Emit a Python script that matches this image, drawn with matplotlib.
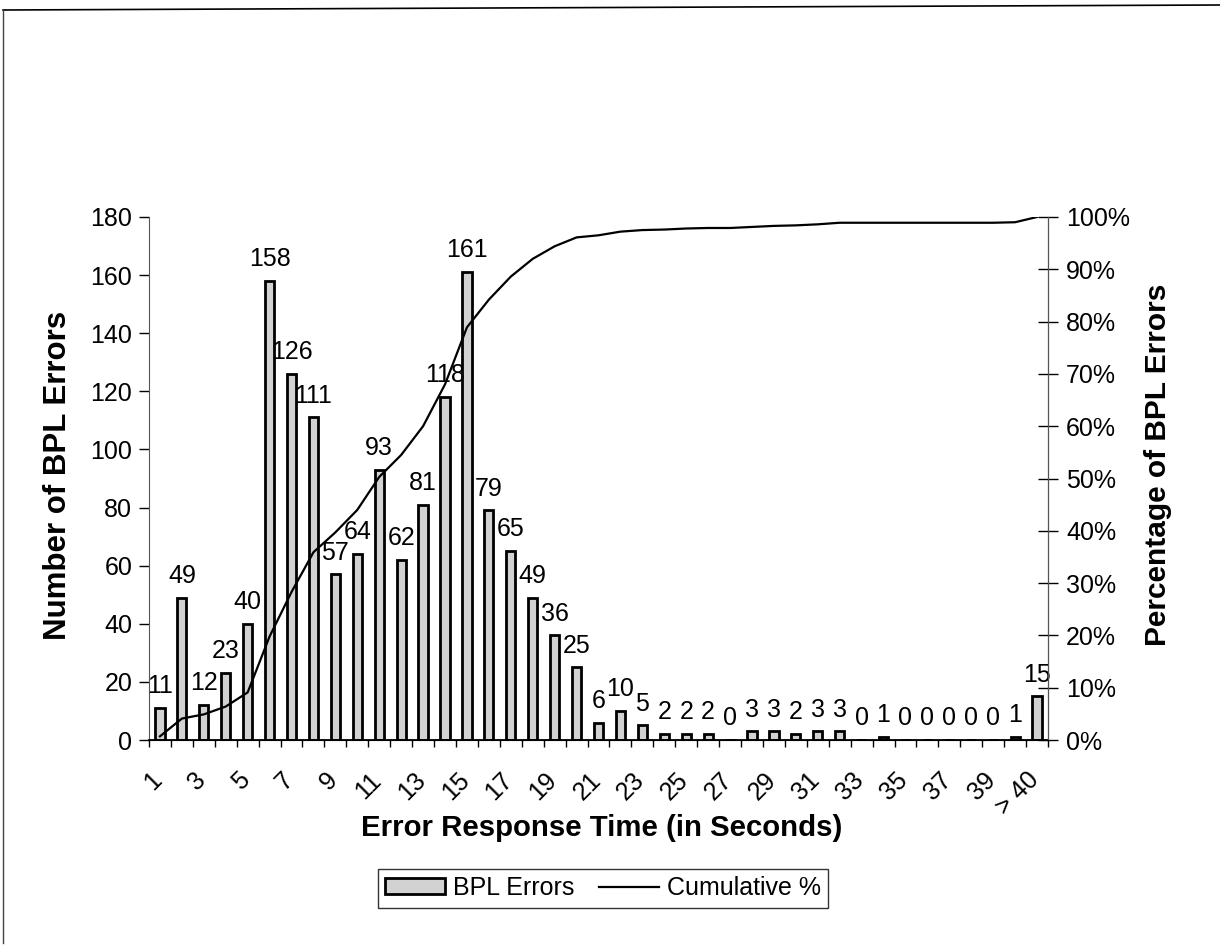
import matplotlib
matplotlib.use("Agg")
import matplotlib.pyplot as plt
from matplotlib.lines import Line2D
from matplotlib.patches import Patch
import matplotlib.transforms as mtransforms
import numpy as np

plt.rcParams['font.family'] = ['Liberation Sans', 'DejaVu Sans']

categories = [str(i) for i in range(1, 41)] + ["> 40"]
bpl_errors = [11, 49, 12, 23, 40, 158, 126, 111, 57, 64, 93, 62, 81, 118, 161,
              79, 65, 49, 36, 25, 6, 10, 5, 2, 2, 2, 0, 3, 3, 2, 3, 3, 0, 1,
              0, 0, 0, 0, 0, 1, 15]
cumulative_pct = [0.7, 4.1, 4.9, 6.4, 9.1, 19.8, 28.3, 35.9, 39.7, 44.0, 50.3,
                  54.5, 60.0, 68.0, 78.9, 84.2, 88.6, 92.0, 94.4, 96.1, 96.5,
                  97.2, 97.5, 97.6, 97.8, 97.9, 97.9, 98.1, 98.3, 98.4, 98.6,
                  98.9, 98.9, 98.9, 98.9, 98.9, 98.9, 98.9, 98.9, 99.0, 100.0]
left_ticks = [0, 20, 40, 60, 80, 100, 120, 140, 160, 180]
right_ticks = [0, 10, 20, 30, 40, 50, 60, 70, 80, 90, 100]

W, H = 1220, 948
fig = plt.figure(figsize=(W / 100, H / 100), dpi=100)
ax = fig.add_axes([149 / W, 1 - 740 / H, (1048 - 149) / W, (740 - 217) / H])
ax2 = ax.twinx()

bar_face = '#d2d2d2'
x = np.arange(len(categories))
ax.bar(x, bpl_errors, width=0.42, facecolor=bar_face, edgecolor='black',
       linewidth=2.0, zorder=2)
for xi, v in zip(x, bpl_errors):
    ax.annotate(str(v), (xi, v), xytext=(0, 7), textcoords='offset points',
                ha='center', va='bottom', fontsize=18, zorder=5)

ax.set_xlim(-0.5, len(categories) - 0.5)
ax.set_ylim(0, 180)
ax.set_yticks(left_ticks)
ax.set_yticklabels([str(t) for t in left_ticks], fontsize=18)
ax.tick_params(axis='y', direction='out', length=7, width=1, pad=5)

shown = list(range(0, 40, 2)) + [40]
ax.set_xticks(shown)
ax.set_xticklabels([categories[i] for i in shown], rotation=45, ha='right',
                   rotation_mode='anchor', fontsize=18)
ax.tick_params(axis='x', length=0, pad=20)
shift = mtransforms.ScaledTranslation(-10 / 100, 0, fig.dpi_scale_trans)
for lbl in ax.get_xticklabels():
    lbl.set_transform(lbl.get_transform() + shift)
ax.set_xticks(np.arange(-0.5, len(categories), 1), minor=True)
ax.tick_params(axis='x', which='minor', direction='out', length=5, width=1)

ax2.plot(x, cumulative_pct, color='black', linewidth=1.6, zorder=3)
ax2.set_ylim(0, 100)
ax2.set_yticks(right_ticks)
ax2.set_yticklabels([f"{t}%" for t in right_ticks], fontsize=18)
ax2.tick_params(axis='y', direction='inout', length=14, width=1, pad=6)

for a in (ax, ax2):
    a.spines['top'].set_visible(False)
ax.spines['left'].set_color('#555555')
ax2.spines['right'].set_color('#555555')
ax2.spines['left'].set_visible(False)
ax.spines['bottom'].set_linewidth(1.3)
ax.patch.set_visible(False)

fig.text(58 / W, 1 - 475 / H, "Number of BPL Errors", rotation=90, ha='center',
         va='center', fontsize=22.5, fontweight='bold')
fig.text(1158 / W, 1 - 465 / H, "Percentage of BPL Errors", rotation=90,
         ha='center', va='center', fontsize=21.5, fontweight='bold')
fig.text(602 / W, 1 - 828 / H, "Error Response Time (in Seconds)", ha='center',
         va='center', fontsize=21.2, fontweight='bold')

handles = [Patch(facecolor=bar_face, edgecolor='black', linewidth=2.0),
           Line2D([0], [0], color='black', linewidth=1.6)]
leg = fig.legend(handles, ["BPL Errors", "Cumulative %"], loc='center',
                 bbox_to_anchor=(603 / W, 1 - 888 / H), ncol=2, fontsize=18,
                 frameon=True, fancybox=False, edgecolor='black',
                 handlelength=2.4, handleheight=0.6, handletextpad=0.3,
                 columnspacing=1.0, borderpad=0.3)
leg.get_frame().set_linewidth(1.0)

fig.add_artist(Line2D([3 / W, 1], [1 - 10 / H, 1 - 5 / H], color='black',
                      linewidth=1.2, transform=fig.transFigure))
fig.add_artist(Line2D([3 / W, 3 / W], [1 - 10 / H, 0.005], color='#444444',
                      linewidth=1.0, transform=fig.transFigure))

fig.savefig("out.png", dpi=100)
